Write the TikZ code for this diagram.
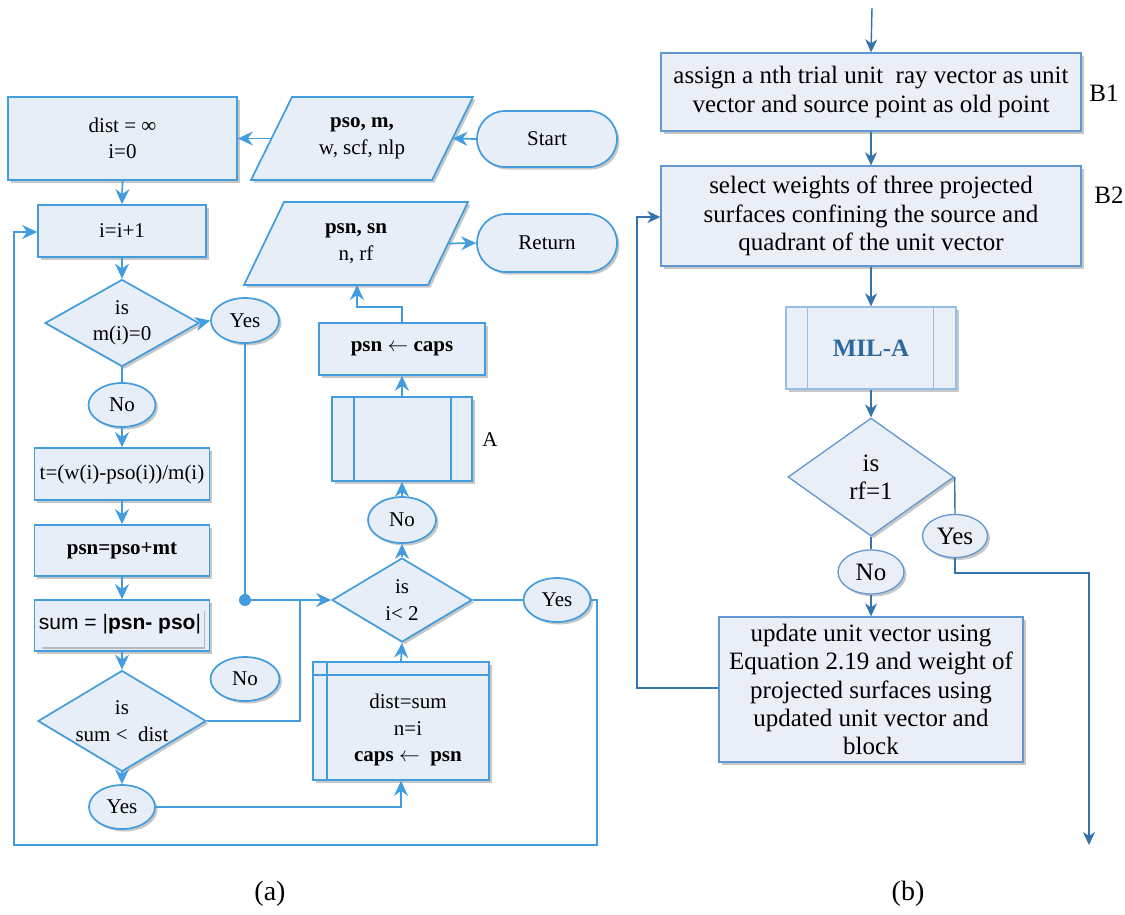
\documentclass[tikz,border=0pt]{standalone}
\usepackage{fontspec}
\setmainfont{Liberation Serif}
\setsansfont{Liberation Sans}
\usetikzlibrary{shapes.geometric,shapes.misc,arrows.meta,shadows,calc}
\definecolor{lcol}{RGB}{66,156,222}
\definecolor{lfill}{RGB}{231,238,248}
\definecolor{rcol}{RGB}{52,116,170}
\definecolor{rborder}{RGB}{98,152,210}
\definecolor{rfill}{RGB}{233,238,247}
\definecolor{milborder}{RGB}{150,190,228}
\definecolor{miltext}{RGB}{44,104,160}
\newcommand{\lfnt}{\fontsize{21}{26.5}\selectfont}
\newcommand{\rfnt}{\fontsize{25}{28.3}\selectfont}
\newcommand{\larrow}{\(\leftarrow\)}
\tikzset{
  shd/.style={drop shadow={shadow xshift=2.5pt,shadow yshift=-2.5pt,opacity=0.22,fill=black}},
  lbox/.style={draw=lcol,line width=1.7pt,fill=lfill,shd,font=\lfnt,align=center,inner sep=0pt},
  lproc/.style={lbox,rectangle},
  ldec/.style={lbox,diamond},
  lterm/.style={lbox,rounded rectangle},
  lell/.style={lbox,ellipse},
  larr/.style={draw=lcol,line width=1.7pt,-{Stealth[length=15pt,width=14pt,inset=5pt]}},
  lcon/.style={draw=lcol,line width=1.7pt},
  rbox/.style={draw=rborder,line width=1.3pt,fill=rfill,shd,font=\rfnt,align=center,inner sep=0pt},
  rproc/.style={rbox,rectangle},
  rdec/.style={rbox,diamond},
  rell/.style={rbox,ellipse},
  rarr/.style={draw=rcol,line width=1.4pt,-{Stealth[length=13pt,width=12pt,inset=4pt]}},
  rcon/.style={draw=rcol,line width=1.4pt},
  plain/.style={inner sep=0pt,align=center},
}
\begin{document}
\begin{tikzpicture}[x=1pt,y=-1pt]
\useasboundingbox (0,0) rectangle (1125,914);

% ---------------- left flowchart ----------------
\node[lproc,minimum width=229,minimum height=83] (dist) at (122.5,138.5) {dist = ∞\\i=0};
% pso parallelogram
\coordinate (p1a) at (292,97); \coordinate (p1b) at (473,97);
\coordinate (p1c) at (432,180); \coordinate (p1d) at (251,180);
\fill[black,opacity=0.22] ($(p1a)+(2.5,2.5)$) -- ($(p1b)+(2.5,2.5)$) -- ($(p1c)+(2.5,2.5)$) -- ($(p1d)+(2.5,2.5)$) -- cycle;
\draw[draw=lcol,line width=1.7pt,fill=lfill] (p1a) -- (p1b) -- (p1c) -- (p1d) -- cycle;
\node[plain,font=\lfnt] (pso) at (362,138.5) {\textbf{pso, m,}\\w, scf, nlp};
\coordinate (psoL) at (271.5,138.5); \coordinate (psoR) at (452.5,138.5);

\node[lterm,minimum width=140,minimum height=56] (start) at (547,139) {Start};

\node[lproc,minimum width=168,minimum height=52] (inc) at (122,231) {i=i+1};
\node[ldec,aspect=1.77,minimum width=154,minimum height=87] (d1) at (122,323) {is\\m(i)=0};
\node[lell,minimum width=68,minimum height=45] (yes1) at (245,320.5) {Yes};
\node[lell,minimum width=67,minimum height=44] (no1) at (122,405) {No};
\node[lproc,minimum width=175,minimum height=52] (tbox) at (122,474) {t=(w(i)-pso(i))/m(i)};
\node[lproc,minimum width=175,minimum height=51] (psnbox) at (122,550.5) {\textbf{psn=pso+mt}};
\node[lproc,minimum width=175,minimum height=51] (sumbox) at (122,625.5) {};
\draw[gray!55,line width=1.4pt] ($(sumbox.south west)+(8,-4)$) -- ($(sumbox.south east)+(-6,-4)$) -- ($(sumbox.north east)+(-6,12)$);
\node[plain,font={\sffamily\fontsize{21}{25}\selectfont}] (sumtxt) at (120,624) {sum = |\textbf{psn- pso}|};
\node[ldec,aspect=1.66,minimum width=168,minimum height=101] (d2) at (122,721) {is\\sum <\ \ dist};
\node[lell,minimum width=69,minimum height=44] (no2) at (245,679) {No};
\node[lell,minimum width=66,minimum height=44] (yes2) at (122,807) {Yes};

\node[lproc,minimum width=176,minimum height=118] (dsum) at (401,721) {};
\draw[lcol,line width=1.7pt] ($(dsum.north west)+(0,14)$) -- ($(dsum.north east)+(0,14)$);
\draw[lcol,line width=1.7pt] ($(dsum.north west)+(15,0)$) -- ($(dsum.south west)+(15,0)$);
\node[plain,font=\lfnt] (dsumtxt) at (408,730) {dist=sum\\n=i\\\textbf{caps \larrow\ \ psn}};

\node[ldec,aspect=1.67,minimum width=140,minimum height=84] (d3) at (402,600) {is\\i< 2};
\node[lell,minimum width=67,minimum height=44] (yes3) at (557,600) {Yes};
\node[lell,minimum width=68,minimum height=46] (no3) at (402,520) {No};
\node[lproc,minimum width=140,minimum height=84] (abox) at (402,439) {};
\draw[lcol,line width=1.7pt] ($(abox.north west)+(23,0)$) -- ($(abox.south west)+(23,0)$);
\draw[lcol,line width=1.7pt] ($(abox.north east)+(-22,0)$) -- ($(abox.south east)+(-22,0)$);
\node[plain,font=\lfnt] (alab) at (490,440) {A};
\node[lproc,minimum width=166,minimum height=52] (capsbox) at (402,349) {\textbf{psn \larrow\ caps}};

% psn,sn parallelogram
\coordinate (p2a) at (284,202); \coordinate (p2b) at (468,202);
\coordinate (p2c) at (428,285); \coordinate (p2d) at (244,285);
\fill[black,opacity=0.22] ($(p2a)+(2.5,2.5)$) -- ($(p2b)+(2.5,2.5)$) -- ($(p2c)+(2.5,2.5)$) -- ($(p2d)+(2.5,2.5)$) -- cycle;
\draw[draw=lcol,line width=1.7pt,fill=lfill] (p2a) -- (p2b) -- (p2c) -- (p2d) -- cycle;
\node[plain,font=\lfnt] (psnsn) at (356,243.5) {\textbf{psn, sn}\\n, rf};
\coordinate (psnR) at (448,243.5); \coordinate (psnB) at (357,285);
\node[lterm,minimum width=140,minimum height=58] (ret) at (547,243) {Return};

% left connectors
\draw[larr] (start.west) -- (psoR);
\draw[larr] (psoL) -- (dist.east);
\draw[larr] (dist.south) -- (inc.north);
\draw[larr] (inc.south) -- (d1.north);
\draw[larr] (d1.east) -- (yes1.west);
\draw[lcon] (d1.south) -- (no1.north);
\draw[larr] (no1.south) -- (tbox.north);
\draw[larr] (tbox.south) -- (psnbox.north);
\draw[larr] (psnbox.south) -- (sumbox.north);
\draw[larr] (sumbox.south) -- (d2.north);
\draw[larr] (d2.south) -- (yes2.north);
\coordinate (jn) at (245,600);
\draw[lcon] (yes1.south) -- (jn);
\fill[lcol] (jn) circle (6);
\draw[larr] (jn) -- (d3.west);
\draw[lcon] (d2.east) -- (300,721) -- (300,600);
\draw[larr] (yes2.east) -| (dsum.south);
\draw[larr] (dsum.north) -- (d3.south);
\draw[lcon] (d3.east) -- (yes3.west);
\draw[larr] (yes3.east) -- (597,600) -- (597,845) -- (14,845) -- (14,232) -- (inc.west |- 0,232);
\draw[larr] (d3.north) -- (no3.south);
\draw[larr] (no3.north) -- (abox.south);
\draw[larr] (abox.north) -- (capsbox.south);
\draw[larr] (capsbox.north) -- (402,307) -- (357,307) -- (psnB);
\draw[larr] (psnR) -- (ret.west);

% ---------------- right flowchart ----------------
\coordinate (rtop) at (872,8);
\node[rproc,minimum width=420,minimum height=78] (b1) at (871,92) {assign a nth trial unit\ \ ray vector as unit\\vector and source point as old point};
\node[plain,font=\rfnt] (b1lab) at (1104,93) {B1};
\node[rproc,minimum width=420,minimum height=100] (b2) at (871,216) {select weights of three projected\\surfaces confining the source and\\quadrant of the unit vector};
\node[plain,font=\rfnt] (b2lab) at (1109,195) {B2};
\node[rbox,rectangle,draw=milborder,minimum width=170,minimum height=82,font={\rfnt\bfseries},text=miltext] (mil) at (871,348) {MIL-A};
\draw[milborder,line width=1.3pt] ($(mil.north west)+(22,0)$) -- ($(mil.south west)+(22,0)$);
\draw[milborder,line width=1.3pt] ($(mil.north east)+(-23,0)$) -- ($(mil.south east)+(-23,0)$);
\node[rdec,aspect=1.4,minimum width=166,minimum height=118] (d4) at (871,477) {is\\rf=1};
\node[rell,minimum width=65,minimum height=43] (yes4) at (955,536) {Yes};
\node[rell,minimum width=66,minimum height=44] (no4) at (871,572) {No};
\node[rproc,minimum width=304,minimum height=145] (upd) at (871,689.5) {update unit vector using\\Equation 2.19 and weight of\\projected surfaces using\\updated unit vector and\\block};
\coordinate (rend) at (1089,845);

\draw[rarr] (rtop) -- (b1.north);
\draw[rarr] (b1.south) -- (b2.north);
\draw[rarr] (b2.south) -- (mil.north);
\draw[rarr] (mil.south) -- (d4.north);
\draw[rcon] (d4.east) -- (yes4.north);
\draw[rcon] (d4.south) -- (no4.north);
\draw[rarr] (no4.south) -- (upd.north);
\draw[rarr] (yes4.south) -- (955,573) -- (1089,573) -- (rend);
\draw[rarr] (upd.west |- 0,688) -- (637,688) -- (637,217) -- (b2.west |- 0,217);

% captions
\node[plain,font=\fontsize{28}{32}\selectfont] (capa) at (270,894) {(a)};
\node[plain,font=\fontsize{28}{32}\selectfont] (capb) at (908,894) {(b)};
\end{tikzpicture}
\end{document}
